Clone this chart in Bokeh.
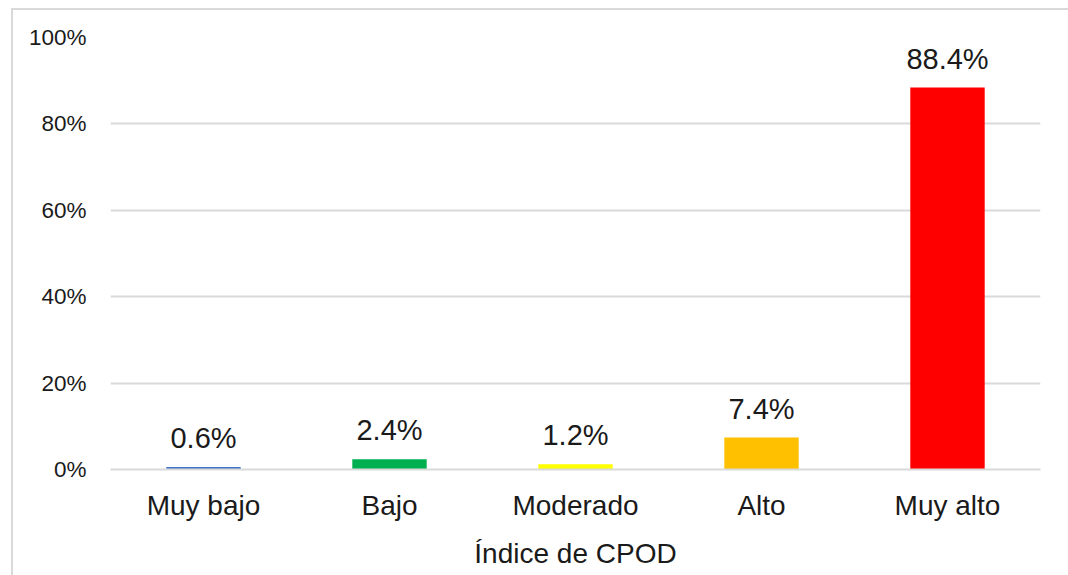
from bokeh.plotting import figure
from bokeh.models import ColumnDataSource, FactorRange, Range1d, PrintfTickFormatter, FixedTicker
from bokeh.core.properties import value
from bokeh.embed import file_html
from bokeh.resources import INLINE

categories = ["Muy bajo", "Bajo", "Moderado", "Alto", "Muy alto"]
percentages = [0.6, 2.4, 1.2, 7.4, 88.4]
bar_colors = ["#4472C4", "#00B050", "#FFFF00", "#FFC000", "#FF0000"]
y_ticks = [0, 20, 40, 60, 80, 100]
x_title = "Índice de CPOD"

labels = [f"{v:.1f}%" for v in percentages]
src = ColumnDataSource(dict(cat=categories, val=percentages, col=bar_colors, lab=labels))

FONT = "Liberation Sans"
TXT = "#1a1a1a"

p = figure(x_range=FactorRange(*categories), y_range=Range1d(0, 100),
           width=1057, height=567, output_backend="svg", toolbar_location=None,
           min_border_left=97, min_border_right=30, min_border_top=27, min_border_bottom=108)
p.styles = {"margin-left": "11px", "margin-top": "8px",
            "border-left": "2px solid #d9d9d9", "border-top": "2px solid #d9d9d9"}

p.vbar(x="cat", top="val", width=0.4, fill_color="col", line_color=None, source=src)
p.text(x="cat", y="val", text="lab", source=src, text_align="center",
       text_baseline="alphabetic", y_offset=-29, text_font=value(FONT),
       text_font_size="29px", text_color=TXT)

p.outline_line_color = None
p.xgrid.grid_line_color = None
p.ygrid.grid_line_color = "#d9d9d9"
p.ygrid.grid_line_width = 2
p.yaxis.ticker = FixedTicker(ticks=y_ticks)
p.yaxis.formatter = PrintfTickFormatter(format="%d%%")
p.yaxis.axis_line_color = None
p.yaxis.major_tick_line_color = None
p.yaxis.minor_tick_line_color = None
p.yaxis.major_label_standoff = 18
p.yaxis.major_label_text_font = FONT
p.yaxis.major_label_text_font_size = "22.5px"
p.yaxis.major_label_text_color = TXT

p.xaxis.axis_line_color = "#d9d9d9"
p.xaxis.axis_line_width = 2
p.xaxis.major_tick_line_color = None
p.xaxis.minor_tick_line_color = None
p.xaxis.major_label_standoff = 14
p.xaxis.major_label_text_font = FONT
p.xaxis.major_label_text_font_size = "28px"
p.xaxis.major_label_text_color = TXT
p.xaxis.axis_label = x_title
p.xaxis.axis_label_text_font = FONT
p.xaxis.axis_label_text_font_size = "28px"
p.xaxis.axis_label_text_font_style = "normal"
p.xaxis.axis_label_text_color = TXT
p.xaxis.axis_label_standoff = 14

open("out.html", "w").write(file_html(p, INLINE))
